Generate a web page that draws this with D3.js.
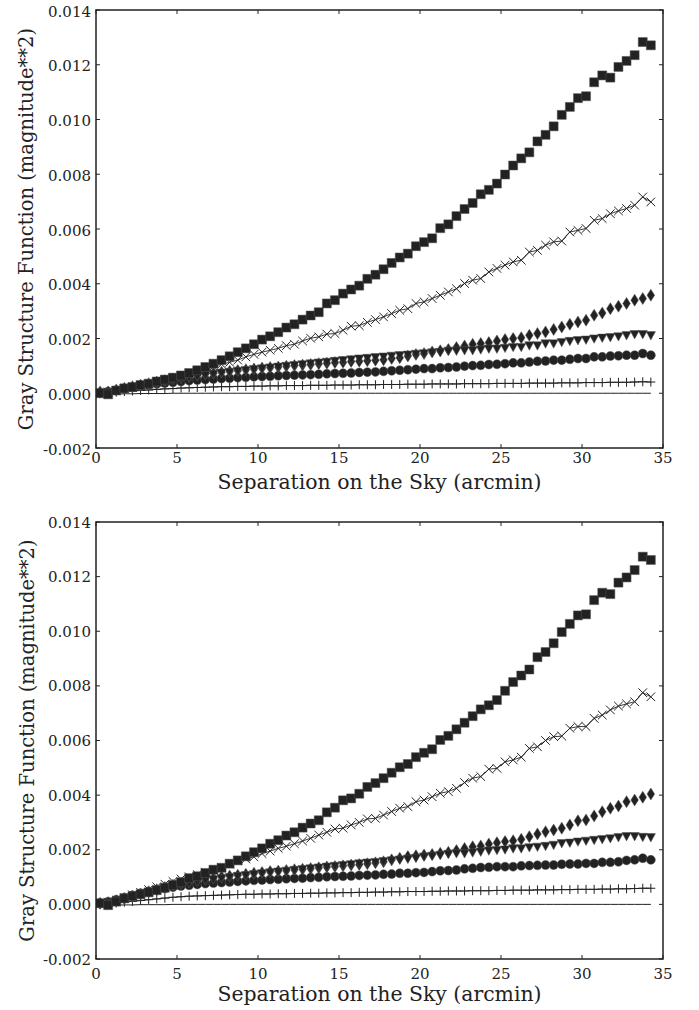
<!DOCTYPE html>
<html>
<head>
<meta charset="utf-8">
<script src="https://cdn.jsdelivr.net/npm/d3@7"></script>
<style>
  html, body { margin: 0; padding: 0; background: #fff; }
  svg { display: block; }
  text { font-family: "DejaVu Serif", serif; fill: #222; }
</style>
</head>
<body>
<svg id="chart" width="699" height="1010"></svg>
<script>
// Angular separation bins (arcmin)
const separation = [
  0.25, 0.75, 1.25, 1.75, 2.25, 2.75, 3.25, 3.75, 4.25, 4.75,
  5.25, 5.75, 6.25, 6.75, 7.25, 7.75, 8.25, 8.75, 9.25, 9.75,
  10.25, 10.75, 11.25, 11.75, 12.25, 12.75, 13.25, 13.75, 14.25, 14.75,
  15.25, 15.75, 16.25, 16.75, 17.25, 17.75, 18.25, 18.75, 19.25, 19.75,
  20.25, 20.75, 21.25, 21.75, 22.25, 22.75, 23.25, 23.75, 24.25, 24.75,
  25.25, 25.75, 26.25, 26.75, 27.25, 27.75, 28.25, 28.75, 29.25, 29.75,
  30.25, 30.75, 31.25, 31.75, 32.25, 32.75, 33.25, 33.75, 34.25
];

const xTicks = [0, 5, 10, 15, 20, 25, 30, 35];
const yTicks = [-0.002, 0.000, 0.002, 0.004, 0.006, 0.008, 0.010, 0.012, 0.014];
const yTickLabels = ["-0.002", "0.000", "0.002", "0.004", "0.006", "0.008", "0.010", "0.012", "0.014"];
const xTitle = "Separation on the Sky (arcmin)";
const yTitle = "Gray Structure Function (magnitude**2)";

// ---- upper panel ----
const topSquares = [
  0.00000, -0.00004, 0.00010, 0.00018, 0.00023, 0.00030, 0.00035, 0.00043, 0.00050, 0.00057,
  0.00065, 0.00074, 0.00084, 0.00096, 0.00108, 0.00121, 0.00135, 0.00150, 0.00164, 0.00179,
  0.00196, 0.00208, 0.00223, 0.00240, 0.00252, 0.00269, 0.00284, 0.00296, 0.00328, 0.00340,
  0.00364, 0.00379, 0.00393, 0.00418, 0.00433, 0.00453, 0.00476, 0.00496, 0.00510, 0.00537,
  0.00552, 0.00566, 0.00603, 0.00617, 0.00647, 0.00673, 0.00695, 0.00727, 0.00743, 0.00766,
  0.00799, 0.00832, 0.00858, 0.00880, 0.00920, 0.00944, 0.00975, 0.01017, 0.01046, 0.01078,
  0.01085, 0.01136, 0.01161, 0.01153, 0.01192, 0.01214, 0.01235, 0.01283, 0.01271
];
const topCrosses = [
  0.00002, 0.00005, 0.00010, 0.00016, 0.00022, 0.00028, 0.00034, 0.00040, 0.00047, 0.00054,
  0.00061, 0.00069, 0.00077, 0.00086, 0.00097, 0.00106, 0.00113, 0.00121, 0.00133, 0.00142,
  0.00150, 0.00157, 0.00164, 0.00174, 0.00179, 0.00191, 0.00201, 0.00206, 0.00216, 0.00218,
  0.00230, 0.00245, 0.00247, 0.00259, 0.00269, 0.00279, 0.00291, 0.00303, 0.00309, 0.00328,
  0.00334, 0.00346, 0.00358, 0.00370, 0.00382, 0.00401, 0.00413, 0.00419, 0.00443, 0.00456,
  0.00468, 0.00480, 0.00486, 0.00516, 0.00522, 0.00541, 0.00553, 0.00556, 0.00589, 0.00595,
  0.00602, 0.00632, 0.00638, 0.00656, 0.00666, 0.00675, 0.00687, 0.00717, 0.00699
];
const topDiamonds = [
  0.00005, 0.00005, 0.00012, 0.00018, 0.00024, 0.00030, 0.00035, 0.00041, 0.00046, 0.00052,
  0.00056, 0.00061, 0.00066, 0.00070, 0.00073, 0.00077, 0.00080, 0.00083, 0.00086, 0.00089,
  0.00092, 0.00094, 0.00096, 0.00099, 0.00101, 0.00103, 0.00105, 0.00108, 0.00110, 0.00112,
  0.00113, 0.00116, 0.00117, 0.00119, 0.00121, 0.00122, 0.00127, 0.00130, 0.00136, 0.00142,
  0.00145, 0.00151, 0.00155, 0.00160, 0.00167, 0.00173, 0.00179, 0.00182, 0.00185, 0.00191,
  0.00196, 0.00200, 0.00203, 0.00212, 0.00218, 0.00224, 0.00233, 0.00242, 0.00252, 0.00260,
  0.00267, 0.00285, 0.00293, 0.00309, 0.00318, 0.00328, 0.00340, 0.00346, 0.00358
];
const topTriangles = [
  0.00000, 0.00004, 0.00010, 0.00016, 0.00022, 0.00028, 0.00033, 0.00039, 0.00044, 0.00049,
  0.00054, 0.00059, 0.00063, 0.00067, 0.00071, 0.00075, 0.00078, 0.00082, 0.00085, 0.00088,
  0.00091, 0.00094, 0.00097, 0.00100, 0.00103, 0.00106, 0.00109, 0.00112, 0.00115, 0.00118,
  0.00121, 0.00124, 0.00127, 0.00129, 0.00132, 0.00134, 0.00137, 0.00139, 0.00141, 0.00144,
  0.00146, 0.00149, 0.00151, 0.00155, 0.00155, 0.00157, 0.00157, 0.00160, 0.00163, 0.00163,
  0.00166, 0.00169, 0.00169, 0.00175, 0.00175, 0.00182, 0.00182, 0.00187, 0.00191, 0.00194,
  0.00196, 0.00200, 0.00203, 0.00205, 0.00208, 0.00212, 0.00216, 0.00216, 0.00212
];
const topCircles = [
  0.00003, 0.00006, 0.00011, 0.00016, 0.00021, 0.00026, 0.00030, 0.00034, 0.00037, 0.00040,
  0.00043, 0.00046, 0.00048, 0.00050, 0.00052, 0.00054, 0.00055, 0.00057, 0.00058, 0.00060,
  0.00061, 0.00062, 0.00064, 0.00065, 0.00066, 0.00067, 0.00068, 0.00069, 0.00071, 0.00072,
  0.00073, 0.00074, 0.00076, 0.00077, 0.00078, 0.00080, 0.00082, 0.00084, 0.00086, 0.00088,
  0.00090, 0.00090, 0.00093, 0.00094, 0.00096, 0.00099, 0.00101, 0.00102, 0.00105, 0.00106,
  0.00108, 0.00111, 0.00111, 0.00114, 0.00117, 0.00118, 0.00121, 0.00121, 0.00124, 0.00127,
  0.00127, 0.00133, 0.00133, 0.00136, 0.00137, 0.00139, 0.00139, 0.00145, 0.00139
];
const topPlus = [
  0.00000, 0.00002, 0.00004, 0.00006, 0.00008, 0.00010, 0.00012, 0.00014, 0.00016, 0.00017,
  0.00019, 0.00020, 0.00021, 0.00022, 0.00023, 0.00024, 0.00024, 0.00025, 0.00025, 0.00026,
  0.00026, 0.00027, 0.00027, 0.00028, 0.00028, 0.00028, 0.00029, 0.00029, 0.00029, 0.00030,
  0.00030, 0.00030, 0.00031, 0.00031, 0.00031, 0.00032, 0.00032, 0.00032, 0.00033, 0.00033,
  0.00033, 0.00034, 0.00034, 0.00034, 0.00034, 0.00035, 0.00035, 0.00035, 0.00035, 0.00036,
  0.00036, 0.00036, 0.00036, 0.00037, 0.00037, 0.00037, 0.00037, 0.00038, 0.00038, 0.00038,
  0.00039, 0.00039, 0.00039, 0.00040, 0.00040, 0.00040, 0.00041, 0.00042, 0.00041
];
const topLine = [
  -0.00004, -0.00003, -0.00003, -0.00002, -0.00002, -0.00001, -0.00001, -0.00001, -0.00001, 0.00000,
  0.00000, 0.00000, 0.00000, 0.00000, 0.00000, 0.00000, 0.00000, 0.00000, 0.00000, 0.00000,
  0.00000, 0.00000, 0.00000, 0.00000, 0.00000, 0.00000, 0.00000, 0.00000, 0.00000, 0.00000,
  0.00000, 0.00000, 0.00000, 0.00000, 0.00000, 0.00000, 0.00000, 0.00000, 0.00000, 0.00000,
  0.00000, 0.00000, 0.00000, 0.00000, 0.00000, 0.00000, 0.00000, 0.00000, 0.00000, 0.00000,
  0.00000, 0.00000, 0.00000, 0.00000, 0.00000, 0.00000, 0.00000, 0.00000, 0.00000, 0.00000,
  0.00000, 0.00000, 0.00000, 0.00000, 0.00000, 0.00000, 0.00000, 0.00000, 0.00000
];

// ---- lower panel ----
const bottomSquares = [
  0.00004, -0.00003, 0.00010, 0.00022, 0.00030, 0.00037, 0.00044, 0.00052, 0.00061, 0.00071,
  0.00081, 0.00096, 0.00103, 0.00115, 0.00127, 0.00134, 0.00149, 0.00161, 0.00176, 0.00191,
  0.00205, 0.00222, 0.00235, 0.00252, 0.00264, 0.00281, 0.00296, 0.00308, 0.00337, 0.00354,
  0.00381, 0.00388, 0.00405, 0.00430, 0.00444, 0.00462, 0.00482, 0.00502, 0.00514, 0.00539,
  0.00555, 0.00568, 0.00602, 0.00617, 0.00641, 0.00665, 0.00689, 0.00714, 0.00729, 0.00748,
  0.00782, 0.00814, 0.00838, 0.00860, 0.00905, 0.00924, 0.00956, 0.00997, 0.01027, 0.01058,
  0.01062, 0.01114, 0.01141, 0.01136, 0.01178, 0.01197, 0.01224, 0.01273, 0.01261
];
const bottomCrosses = [
  0.00003, 0.00008, 0.00016, 0.00025, 0.00035, 0.00044, 0.00054, 0.00064, 0.00074, 0.00084,
  0.00093, 0.00101, 0.00109, 0.00118, 0.00126, 0.00135, 0.00147, 0.00159, 0.00166, 0.00174,
  0.00186, 0.00195, 0.00205, 0.00213, 0.00222, 0.00232, 0.00242, 0.00254, 0.00264, 0.00276,
  0.00279, 0.00291, 0.00300, 0.00313, 0.00315, 0.00327, 0.00340, 0.00352, 0.00358, 0.00376,
  0.00382, 0.00394, 0.00407, 0.00413, 0.00425, 0.00446, 0.00462, 0.00468, 0.00495, 0.00498,
  0.00522, 0.00529, 0.00539, 0.00571, 0.00577, 0.00600, 0.00614, 0.00616, 0.00645, 0.00651,
  0.00651, 0.00681, 0.00693, 0.00712, 0.00726, 0.00734, 0.00742, 0.00775, 0.00760
];
const bottomDiamonds = [
  0.00004, 0.00006, 0.00013, 0.00021, 0.00029, 0.00037, 0.00046, 0.00054, 0.00062, 0.00070,
  0.00077, 0.00083, 0.00088, 0.00093, 0.00097, 0.00101, 0.00104, 0.00107, 0.00110, 0.00114,
  0.00117, 0.00120, 0.00122, 0.00124, 0.00127, 0.00129, 0.00131, 0.00134, 0.00137, 0.00139,
  0.00141, 0.00144, 0.00146, 0.00149, 0.00152, 0.00156, 0.00163, 0.00169, 0.00175, 0.00178,
  0.00181, 0.00183, 0.00187, 0.00191, 0.00197, 0.00205, 0.00211, 0.00214, 0.00221, 0.00226,
  0.00230, 0.00233, 0.00238, 0.00248, 0.00258, 0.00266, 0.00272, 0.00279, 0.00291, 0.00306,
  0.00309, 0.00324, 0.00339, 0.00352, 0.00360, 0.00376, 0.00382, 0.00392, 0.00404
];
const bottomTriangles = [
  0.00002, 0.00005, 0.00012, 0.00020, 0.00028, 0.00036, 0.00044, 0.00052, 0.00059, 0.00066,
  0.00072, 0.00078, 0.00083, 0.00088, 0.00092, 0.00096, 0.00100, 0.00104, 0.00107, 0.00111,
  0.00114, 0.00117, 0.00120, 0.00123, 0.00126, 0.00129, 0.00132, 0.00135, 0.00138, 0.00141,
  0.00144, 0.00147, 0.00150, 0.00153, 0.00155, 0.00158, 0.00161, 0.00164, 0.00167, 0.00170,
  0.00175, 0.00178, 0.00181, 0.00185, 0.00187, 0.00187, 0.00190, 0.00193, 0.00197, 0.00199,
  0.00201, 0.00205, 0.00205, 0.00209, 0.00211, 0.00214, 0.00218, 0.00224, 0.00226, 0.00230,
  0.00233, 0.00236, 0.00239, 0.00242, 0.00246, 0.00250, 0.00250, 0.00247, 0.00246
];
const bottomCircles = [
  0.00005, 0.00010, 0.00017, 0.00025, 0.00033, 0.00041, 0.00047, 0.00053, 0.00058, 0.00063,
  0.00067, 0.00070, 0.00073, 0.00076, 0.00078, 0.00080, 0.00082, 0.00084, 0.00086, 0.00088,
  0.00089, 0.00091, 0.00092, 0.00094, 0.00095, 0.00096, 0.00098, 0.00099, 0.00101, 0.00102,
  0.00103, 0.00104, 0.00106, 0.00107, 0.00108, 0.00110, 0.00111, 0.00114, 0.00114, 0.00116,
  0.00117, 0.00120, 0.00123, 0.00124, 0.00126, 0.00130, 0.00132, 0.00135, 0.00136, 0.00138,
  0.00138, 0.00138, 0.00141, 0.00142, 0.00143, 0.00144, 0.00144, 0.00147, 0.00148, 0.00148,
  0.00150, 0.00150, 0.00154, 0.00154, 0.00156, 0.00161, 0.00163, 0.00169, 0.00163
];
const bottomPlus = [
  0.00000, 0.00002, 0.00005, 0.00008, 0.00011, 0.00014, 0.00017, 0.00020, 0.00023, 0.00026,
  0.00028, 0.00030, 0.00031, 0.00032, 0.00033, 0.00034, 0.00035, 0.00036, 0.00037, 0.00037,
  0.00038, 0.00038, 0.00039, 0.00039, 0.00040, 0.00040, 0.00041, 0.00041, 0.00042, 0.00042,
  0.00043, 0.00043, 0.00044, 0.00044, 0.00045, 0.00045, 0.00046, 0.00046, 0.00047, 0.00047,
  0.00047, 0.00048, 0.00048, 0.00049, 0.00049, 0.00049, 0.00050, 0.00050, 0.00050, 0.00051,
  0.00051, 0.00052, 0.00052, 0.00052, 0.00053, 0.00053, 0.00053, 0.00054, 0.00054, 0.00055,
  0.00055, 0.00055, 0.00056, 0.00056, 0.00057, 0.00057, 0.00058, 0.00059, 0.00059
];
const bottomLine = [
  -0.00004, -0.00003, -0.00003, -0.00002, -0.00002, -0.00001, -0.00001, -0.00001, -0.00001, 0.00000,
  0.00000, 0.00000, 0.00000, 0.00000, 0.00000, 0.00000, 0.00000, 0.00000, 0.00000, 0.00000,
  0.00000, 0.00000, 0.00000, 0.00000, 0.00000, 0.00000, 0.00000, 0.00000, 0.00000, 0.00000,
  0.00000, 0.00000, 0.00000, 0.00000, 0.00000, 0.00000, 0.00000, 0.00000, 0.00000, 0.00000,
  0.00000, 0.00000, 0.00000, 0.00000, 0.00000, 0.00000, 0.00000, 0.00000, 0.00000, 0.00000,
  0.00000, 0.00000, 0.00000, 0.00000, 0.00000, 0.00000, 0.00000, 0.00000, 0.00000, 0.00000,
  0.00000, 0.00000, 0.00000, 0.00000, 0.00000, 0.00000, 0.00000, 0.00000, 0.00000
];

const INK = "#222";

// Marker shapes, centred at the origin
const markerPath = {
  square: () => "M-4.5,-4.5H4.5V4.5H-4.5Z",
  circle: () => { const p = d3.path(); p.arc(0, 0, 4.5, 0, 2 * Math.PI); p.closePath(); return p.toString(); },
  diamond: () => "M0,-6L3.8,0L0,6L-3.8,0Z",
  triangle: () => "M-4.6,-3.6L4.6,-3.6L0,4.8Z",
  plus: () => "M-4.5,0H4.5M0,-4.5V4.5",
  cross: () => "M-4.3,-4.3L4.3,4.3M-4.3,4.3L4.3,-4.3"
};

const svg = d3.select("#chart");

function drawPanel(cfg) {
  const x = d3.scaleLinear().domain([0, 35]).range([cfg.left, cfg.right]);
  const y = d3.scaleLinear().domain([-0.002, 0.014]).range([cfg.bottom, cfg.top]);
  const g = svg.append("g");

  // data layers, clipped to the plot box
  const clip = "clip-" + cfg.id;
  svg.append("clipPath").attr("id", clip)
    .append("rect").attr("x", cfg.left).attr("y", cfg.top)
    .attr("width", cfg.right - cfg.left).attr("height", cfg.bottom - cfg.top);
  const plot = g.append("g").attr("clip-path", `url(#${clip})`);

  const line = d3.line().x((d, i) => x(separation[i])).y(d => y(d));

  plot.append("path").datum(cfg.line)
    .attr("d", line).attr("fill", "none").attr("stroke", INK).attr("stroke-width", 1);

  const series = [
    { values: cfg.plus, shape: "plus", connect: true },
    { values: cfg.circles, shape: "circle" },
    { values: cfg.diamonds, shape: "diamond" },
    { values: cfg.triangles, shape: "triangle" },
    { values: cfg.crosses, shape: "cross", connect: true },
    { values: cfg.squares, shape: "square" }
  ];

  series.forEach(s => {
    const layer = plot.append("g");
    if (s.connect) {
      layer.append("path").datum(s.values)
        .attr("d", line).attr("fill", "none").attr("stroke", INK).attr("stroke-width", 0.9);
    }
    const stroked = s.shape === "plus" || s.shape === "cross";
    layer.selectAll("path.m").data(s.values).join("path")
      .attr("class", "m")
      .attr("transform", (d, i) => `translate(${x(separation[i])},${y(d)})`)
      .attr("d", markerPath[s.shape]())
      .attr("fill", stroked ? "none" : INK)
      .attr("stroke", stroked ? INK : "#555")
      .attr("stroke-width", stroked ? 1 : 0.5);
  });

  // inward ticks on all four sides
  const tl = 4;
  const ticks = g.append("g").attr("stroke", INK).attr("stroke-width", 1);
  xTicks.forEach(t => {
    ticks.append("line").attr("x1", x(t)).attr("x2", x(t)).attr("y1", cfg.bottom).attr("y2", cfg.bottom - tl);
    ticks.append("line").attr("x1", x(t)).attr("x2", x(t)).attr("y1", cfg.top).attr("y2", cfg.top + tl);
  });
  yTicks.forEach(t => {
    ticks.append("line").attr("x1", cfg.left).attr("x2", cfg.left + tl).attr("y1", y(t)).attr("y2", y(t));
    ticks.append("line").attr("x1", cfg.right).attr("x2", cfg.right - tl).attr("y1", y(t)).attr("y2", y(t));
  });

  // frame
  g.append("rect").attr("x", cfg.left).attr("y", cfg.top)
    .attr("width", cfg.right - cfg.left).attr("height", cfg.bottom - cfg.top)
    .attr("fill", "none").attr("stroke", INK).attr("stroke-width", 1.5);

  // tick labels
  g.append("g").selectAll("text").data(xTicks).join("text")
    .attr("x", d => x(d)).attr("y", cfg.bottom + cfg.xLabelPad)
    .attr("text-anchor", "middle").attr("font-size", 15)
    .text(d => d);
  g.append("g").selectAll("text").data(yTicks).join("text")
    .attr("x", cfg.left - 5).attr("y", d => y(d) + cfg.yLabelShift)
    .attr("text-anchor", "end").attr("font-size", 15)
    .text((d, i) => yTickLabels[i]);

  // axis titles
  g.append("text")
    .attr("x", (cfg.left + cfg.right) / 2).attr("y", cfg.bottom + cfg.xTitlePad)
    .attr("text-anchor", "middle").attr("font-size", 20.4)
    .text(xTitle);
  g.append("text")
    .attr("transform", `translate(${cfg.yTitleX},${(cfg.top + cfg.bottom) / 2}) rotate(-90)`)
    .attr("text-anchor", "middle").attr("font-size", 19.5)
    .text(yTitle);
}

drawPanel({
  id: "upper", left: 96, right: 663, top: 10, bottom: 448,
  xLabelPad: 15, yLabelShift: 6.5, xTitlePad: 41, yTitleX: 33,
  squares: topSquares, crosses: topCrosses, diamonds: topDiamonds,
  triangles: topTriangles, circles: topCircles, plus: topPlus, line: topLine
});

drawPanel({
  id: "lower", left: 96, right: 663, top: 522, bottom: 959,
  xLabelPad: 20, yLabelShift: 5.5, xTitlePad: 42, yTitleX: 34,
  squares: bottomSquares, crosses: bottomCrosses, diamonds: bottomDiamonds,
  triangles: bottomTriangles, circles: bottomCircles, plus: bottomPlus, line: bottomLine
});
</script>
</body>
</html>
